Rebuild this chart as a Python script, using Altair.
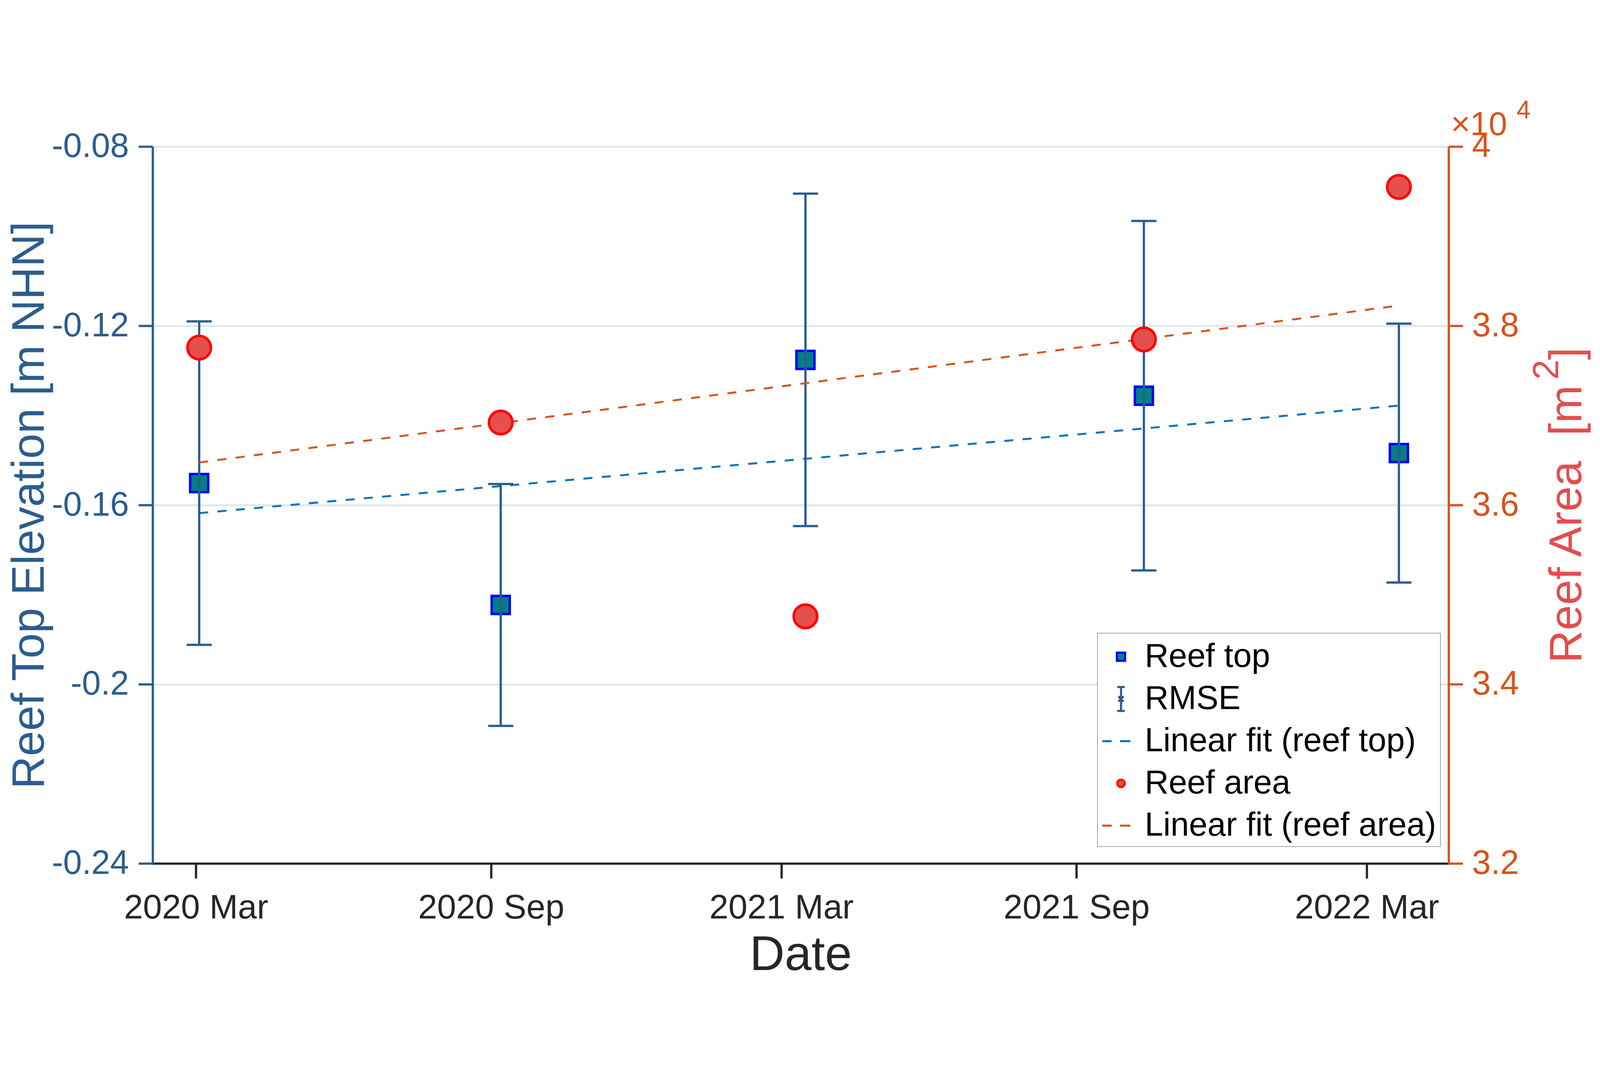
import altair as alt
import pandas as pd

# ---- data ----
dates = ["2020-03-03T00:00:00", "2020-09-07T00:00:00", "2021-03-16T00:00:00",
         "2021-10-13T00:00:00", "2022-03-21T00:00:00"]
reef_top = [-0.1551, -0.1823, -0.1276, -0.1356, -0.1484]
rmse = [0.0361, 0.0270, 0.0371, 0.0390, 0.0289]
reef_area = [37757, 36921, 34758, 37848, 39550]

# linear fits, end points (first and last survey dates)
fit_dates = ["2020-03-03T00:00:00", "2022-03-21T00:00:00"]
fit_top_vals = [-0.1618, -0.1378]
fit_area_vals = [36475, 38226]

legend_labels = ["Reef top", "RMSE", "Linear fit (reef top)", "Reef area", "Linear fit (reef area)"]
left_ticks = [-0.24, -0.2, -0.16, -0.12, -0.08]
right_ticks = [32000, 34000, 36000, 38000, 40000]
exp_text = ["×10"]
exp_power = ["4"]
area_sup = ["2"]

FONT = "Liberation Sans"
BLUE_AX = "#2b5d8f"
ORANGE = "#d95319"
FIT_BLUE = "#0072bd"
RED_T = "#e34d4d"
DARK = "#262626"

df = pd.DataFrame({"date": dates, "elev": reef_top, "rmse": rmse, "area": reef_area})
fit_df = pd.DataFrame({"date": fit_dates, "elev": fit_top_vals, "area": fit_area_vals})

xscale = alt.Scale(domain=[alt.DateTime(year=2020, month=2, date=3),
                           alt.DateTime(year=2022, month=4, date=21)])
xaxis = alt.Axis(
    title="Date", format="%Y %b",
    values=[alt.DateTime(year=2020, month=3, date=1), alt.DateTime(year=2020, month=9, date=1),
            alt.DateTime(year=2021, month=3, date=1), alt.DateTime(year=2021, month=9, date=1),
            alt.DateTime(year=2022, month=3, date=1)],
    grid=False, domainColor=DARK, domainWidth=7, tickColor=DARK, tickWidth=7, tickSize=46,
    labelColor=DARK, labelFont=FONT, labelFontSize=106, labelPadding=40, labelLimit=3000,
    titleColor=DARK, titleFont=FONT, titleFontSize=150, titleFontWeight="normal", titlePadding=20,
)

lscale = alt.Scale(domain=[-0.24, -0.08])
laxis = alt.Axis(
    title="Reef Top Elevation [m NHN]", orient="left", values=left_ticks,
    labelExpr="(datum.value < 0 ? '-' : '') + format(abs(datum.value), '.2~f')",
    grid=True, gridColor="#dfe6ee", gridWidth=6,
    domainColor=BLUE_AX, domainWidth=7, tickColor=BLUE_AX, tickWidth=7, tickSize=44,
    labelColor=BLUE_AX, labelFont=FONT, labelFontSize=105, labelPadding=30, labelLimit=3000,
    titleColor=BLUE_AX, titleFont=FONT, titleFontSize=141, titleFontWeight="normal",
    titleX=-338, titleY=1112, titleAngle=270, titleAlign="center", titleBaseline="alphabetic",
)
rscale = alt.Scale(domain=[32000, 40000])
raxis = alt.Axis(
    title="Reef Area\u00a0 [m\u00a0\u00a0]", orient="right", values=right_ticks,
    labelExpr="format(datum.value / 10000, '.1~f')",
    grid=False, domainColor=ORANGE, domainWidth=7, tickColor=ORANGE, tickWidth=7, tickSize=44,
    labelColor=ORANGE, labelFont=FONT, labelFontSize=105, labelPadding=28, labelLimit=3000,
    titleColor=RED_T, titleFont=FONT, titleFontSize=141, titleFontWeight="normal",
    titleX=411, titleY=1112, titleAngle=270, titleAlign="center", titleBaseline="alphabetic",
)

X = alt.X("date:T", scale=xscale, axis=xaxis)
base = alt.Chart(df)

fit_top = alt.Chart(fit_df).mark_line(color=FIT_BLUE, strokeWidth=6, strokeDash=[28, 29]).encode(
    x=X, y=alt.Y("elev:Q", scale=lscale, axis=laxis))

squares = base.mark_point(shape="square", filled=True, fill="#008080", stroke="#0000ff",
                          strokeWidth=7.5, size=3150, opacity=1).encode(
    x=X, y=alt.Y("elev:Q", scale=lscale, axis=laxis))

err = base.transform_calculate(lo="datum.elev - datum.rmse", hi="datum.elev + datum.rmse")
rule = err.mark_rule(color=BLUE_AX, strokeWidth=7).encode(
    x=X, y=alt.Y("lo:Q", scale=lscale, axis=laxis), y2="hi:Q")
cap_lo = err.mark_tick(color=BLUE_AX, orient="horizontal", size=78, thickness=7, opacity=1).encode(
    x=X, y=alt.Y("lo:Q", scale=lscale, axis=laxis))
cap_hi = err.mark_tick(color=BLUE_AX, orient="horizontal", size=78, thickness=7, opacity=1).encode(
    x=X, y=alt.Y("hi:Q", scale=lscale, axis=laxis))
center = base.mark_point(shape="diamond", filled=True, color=BLUE_AX, size=260, opacity=1).encode(
    x=X, y=alt.Y("elev:Q", scale=lscale, axis=laxis))

legend_df = pd.DataFrame({"series": legend_labels})
legend_layer = alt.Chart(legend_df).transform_filter("false").mark_point(
    filled=True, opacity=1, strokeWidth=6.5).encode(
    x=X, y=alt.Y("elev:Q", scale=lscale, axis=laxis),
    fill=alt.Fill("series:N", scale=alt.Scale(
        domain=legend_labels,
        range=["#008080", "transparent", "transparent", "#e5504c", "transparent"]),
        legend=alt.Legend(title=None)),
    stroke=alt.Stroke("series:N", scale=alt.Scale(
        domain=legend_labels,
        range=["#0000ff", BLUE_AX, FIT_BLUE, "#ff0000", ORANGE]),
        legend=alt.Legend(title=None)),
    shape=alt.Shape("series:N", scale=alt.Scale(
        domain=legend_labels,
        range=["M-0.22,-0.22H0.22V0.22H-0.22Z",
               "M-0.2,-0.64H0.2M0,-0.64V0.64M-0.2,0.64H0.2M-0.14,-0.14L0.14,0.14M-0.14,0.14L0.14,-0.14",
               "M-1,0H-0.5M-0.05,0H0.5",
               "M-0.2,0A0.2,0.2,0,1,0,0.2,0A0.2,0.2,0,1,0,-0.2,0Z",
               "M-1,0H-0.5M-0.05,0H0.5"]),
        legend=alt.Legend(
            title=None, orient="none", legendX=2931, legendY=1509,
            labelFont=FONT, labelFontSize=103, labelColor="#000000", labelLimit=3000,
            labelOffset=12, symbolSize=13456, symbolStrokeWidth=6.5, rowPadding=17,
            padding=12, fillColor="#ffffff", strokeColor=DARK)),
)

left = alt.layer(fit_top, squares, rule, cap_lo, cap_hi, center, legend_layer)

fit_area = alt.Chart(fit_df).mark_line(color=ORANGE, strokeWidth=6, strokeDash=[28, 29]).encode(
    x=X, y=alt.Y("area:Q", scale=rscale, axis=raxis))
circles = base.mark_point(shape="circle", filled=True, fill="#e5504c", stroke="#ff0000",
                          strokeWidth=8, size=5300, opacity=1).encode(
    x=X, y=alt.Y("area:Q", scale=rscale, axis=raxis))

right = alt.layer(fit_area, circles)

exp1 = alt.Chart(pd.DataFrame({"t": exp_text})).mark_text(
    font=FONT, fontSize=103, color=ORANGE, align="left", baseline="alphabetic").encode(
    text="t:N", x=alt.value(4028), y=alt.value(-36))
exp2 = alt.Chart(pd.DataFrame({"t": exp_power})).mark_text(
    font=FONT, fontSize=78, color=ORANGE, align="left", baseline="alphabetic").encode(
    text="t:N", x=alt.value(4232), y=alt.value(-88))
sup2 = alt.Chart(pd.DataFrame({"t": area_sup})).mark_text(
    font=FONT, fontSize=112, color=RED_T, align="center", baseline="alphabetic", angle=270).encode(
    text="t:N", x=alt.value(4361), y=alt.value(692))

chart = alt.layer(left, right, exp1, exp2, sup2).resolve_scale(y="independent").properties(
    width=4021, height=2224,
    autosize=alt.AutoSizeParams(type="none"),
    padding={"left": 464, "top": 156, "right": 460, "bottom": 348},
    background="white",
).configure_view(strokeWidth=0).configure_legend(strokeWidth=6).configure(font=FONT)

chart.save("out.html", embed_options={"renderer": "svg", "actions": False})
